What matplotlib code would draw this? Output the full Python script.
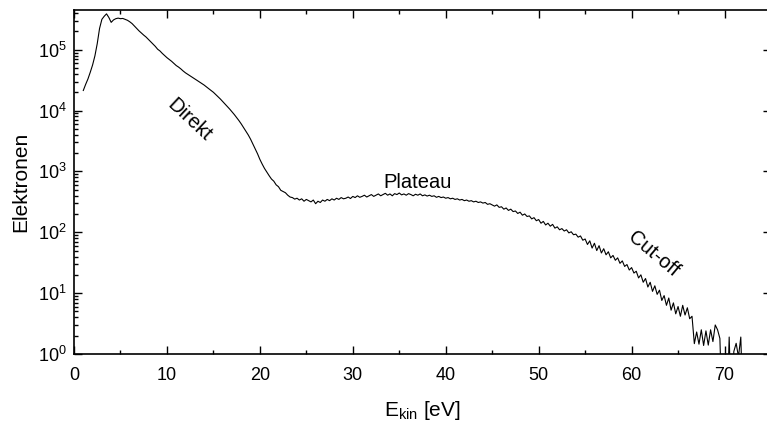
import matplotlib
matplotlib.use("Agg")
import matplotlib.pyplot as plt
from matplotlib.ticker import MultipleLocator, LogLocator, NullFormatter
import numpy as np

plt.rcParams["font.family"] = ["Liberation Sans", "DejaVu Sans"]
plt.rcParams["mathtext.fontset"] = "custom"
plt.rcParams["mathtext.rm"] = "Liberation Sans"
plt.rcParams["mathtext.default"] = "regular"

# Elektronenspektrum, Schrittweite 0.25 eV ab 1 eV
e_start, e_step = 1.0, 0.25
counts = [
    # 1.0 - 3.0
    21400, 26900, 33100, 42700, 56200, 79400, 126000, 224000, 316000,
    # 3.25 - 5.0
    355000, 389000, 339000, 282000, 309000, 324000, 331000, 324000,
    # 5.25 - 7.0
    327000, 316000, 305000, 288000, 269000, 245000, 224000, 204000,
    # 7.25 - 10.0
    188000, 174000, 162000, 148000, 136000, 123000, 113500, 102000,
    95500, 87100, 80400, 74100,
    # 10.25 - 15.0
    69200, 64600, 59600, 55000, 51900, 48400, 44700, 41700, 39400, 37200,
    35100, 33100, 31300, 29500, 27900, 26300, 24500, 22900, 21400, 20000,
    # 15.25 - 20.0
    18400, 17000, 15500, 14100, 12900, 11700, 10600, 9550, 8610, 7670,
    6840, 6030, 5250, 4570, 3980, 3390, 2820, 2340, 1950, 1580,
    # 20.25 - 24.0
    1320, 1120, 977, 851, 750, 692, 603, 562, 490, 468, 447, 407, 380, 372,
    351, 363,
    # 24.25 - 30.0
    339, 355, 324, 347, 331, 316, 339, 295, 324, 309, 339, 324, 347, 331,
    355, 339, 363, 347, 372, 355, 363, 380, 359, 389,
    # 30.25 - 36.0
    372, 398, 376, 389, 407, 380, 398, 417, 389, 407, 427, 398, 417, 437,
    407, 427, 398, 432, 417, 442, 412, 427, 407, 432,
    # 36.25 - 42.0
    417, 398, 422, 407, 427, 398, 412, 394, 407, 389, 398, 376, 389, 372,
    380, 363, 372, 355, 363, 347, 355, 339, 347, 331,
    # 42.25 - 48.0
    339, 324, 331, 316, 324, 309, 316, 302, 309, 288, 295, 282, 269, 282,
    257, 263, 240, 251, 229, 240, 219, 224, 204, 214,
    # 48.25 - 54.0
    191, 200, 182, 186, 166, 174, 155, 162, 141, 151, 132, 141, 126, 135,
    117, 123, 110, 115, 105, 110, 97.7, 102, 91.2, 93.3,
    # 54.25 - 60.0
    83.2, 87.1, 74.1, 77.6, 63.1, 72.4, 55.0, 66.1, 50.1, 60.3, 45.7, 53.7,
    42.7, 47.9, 38.0, 41.7, 34.7, 38.0, 30.9, 33.9, 27.5, 29.5, 24.0, 26.3,
    # 60.25 - 66.0
    21.4, 22.9, 17.8, 20.0, 15.1, 17.4, 12.6, 15.1, 10.7, 13.2, 9.55, 11.2,
    7.59, 9.12, 6.31, 8.32, 5.25, 6.92, 4.57, 6.03, 4.17, 6.31, 4.37, 5.75,
    # 66.25 - 72.0
    3.80, 4.17, 1.48, 2.3, 1.45, 2.5, 1.38, 2.4, 1.4, 2.5, 1.6, 3.0,
    2.5, 1.8, 0.1, 0.1, 0.1, 1.9, 0.1, 1.1, 1.5, 0.9, 1.9, 0.1,
]
energy = e_start + e_step * np.arange(len(counts))

labels = ["Direkt", "Plateau", "Cut-off"]
label_x = [12.4, 37.0, 62.4]
label_y = [7000, 650, 44]
label_rot = [-43, 0, -40]

fig = plt.figure(figsize=(7.67, 4.21), dpi=100)
ax = fig.add_axes([74 / 767, 67 / 421, 697 / 767, 344 / 421])

ax.plot(energy, counts, color="black", lw=0.8)
ax.set_yscale("log")
ax.set_xlim(0, 75)
ax.set_ylim(1, 4.5e5)

ax.xaxis.set_major_locator(MultipleLocator(10))
ax.xaxis.set_minor_locator(MultipleLocator(5))
ax.yaxis.set_major_locator(LogLocator(base=10, numticks=10))
ax.yaxis.set_minor_locator(LogLocator(base=10, subs=np.arange(2, 10), numticks=20))
ax.yaxis.set_minor_formatter(NullFormatter())

ax.tick_params(which="both", direction="in", top=True, right=True, labelsize=13)
ax.tick_params(which="major", length=6, width=1, pad=5)
ax.tick_params(axis="x", which="major", pad=9)
ax.tick_params(which="minor", length=3, width=1)
ax.tick_params(axis="y", which="minor", right=False)
for s in ax.spines.values():
    s.set_linewidth(1.2)

ax.set_xlabel(r"E$_{kin}$ [eV]", fontsize=15, labelpad=11)
ax.set_ylabel("Elektronen", fontsize=15, labelpad=6)

for t, x, y, r in zip(labels, label_x, label_y, label_rot):
    ax.text(x, y, t, rotation=r, ha="center", va="center",
            rotation_mode="anchor", fontsize=14.5)

fig.savefig("out.png", dpi=100)
